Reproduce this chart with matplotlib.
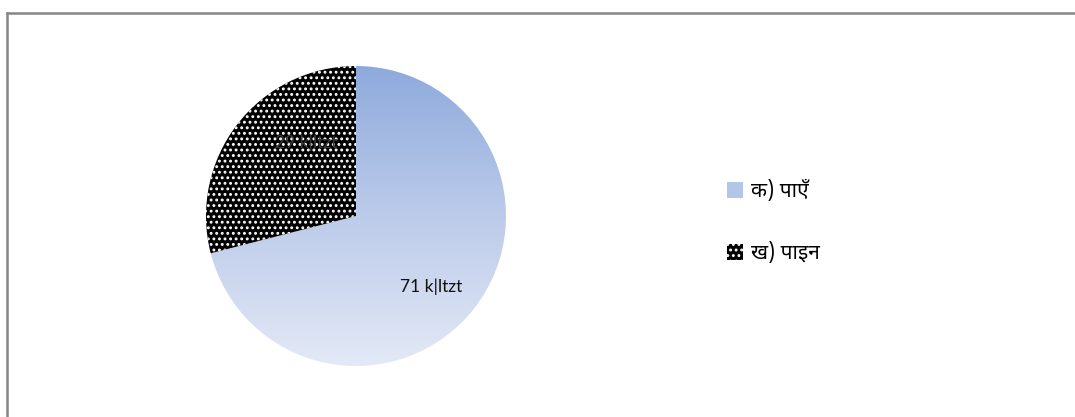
import matplotlib
matplotlib.use("Agg")
import matplotlib.pyplot as plt
import numpy as np
from matplotlib.patches import Patch
from matplotlib.lines import Line2D
from matplotlib.colors import LinearSegmentedColormap

# Data
labels = ["क) पाएँ", "ख) पाइन"]
values = [71, 29]
slice_texts = ["71 k|ltzt", "29 k|ltzt"]

plt.rcParams["font.family"] = ["Noto Sans Devanagari", "Lohit Devanagari", "DejaVu Sans"]
plt.rcParams["hatch.linewidth"] = 1.3

fig = plt.figure(figsize=(10.75, 4.17), dpi=100)
W, H = 1075, 417

# pie axes: centre (356, 216) px, radius 150 px
cx, cy, r = 356, 216, 150
ax = fig.add_axes([(cx - r) / W, (H - cy - r) / H, 2 * r / W, 2 * r / H])

# small slice first so it sits counter-clockwise from 12 o'clock
wedges, _ = ax.pie(values[::-1], startangle=90, counterclock=True, radius=1,
                   colors=["black", "none"], wedgeprops=dict(linewidth=0))
dark, blue = wedges
dark.set_hatch("...")
dark.set_edgecolor("white")
dark.set_linewidth(0)

# vertical gradient for the blue slice (darker at top)
cmap = LinearSegmentedColormap.from_list("bl", ["#8eaadc", "#bccbea", "#e3e9f6"])
grad = np.linspace(0, 1, 256).reshape(-1, 1)
im = ax.imshow(grad, cmap=cmap, extent=(-1, 1, -1, 1), aspect="auto",
               origin="upper", zorder=0.5)
im.set_clip_path(blue)
blue.set_facecolor("none")

ax.set_xlim(-1, 1)
ax.set_ylim(-1, 1)
ax.set_aspect("auto")
ax.axis("off")

ax.text(0.5, -0.47, slice_texts[0], ha="center", va="center", fontsize=12.5,
        family=["Lato", "DejaVu Sans"], color="#111111")
ax.text(-0.33, 0.49, slice_texts[1], ha="center", va="center", fontsize=12.5,
        family=["Lato", "DejaVu Sans"], color="#3a3a3a")

# legend
h1 = Patch(facecolor="#b4c6e7", edgecolor="none")
h2 = Patch(facecolor="black", edgecolor="white", hatch="...", linewidth=0)
leg = fig.legend([h1, h2], labels, loc="center left",
                 bbox_to_anchor=(708 / W, 1 - 222 / H), frameon=False,
                 fontsize=15, handlelength=0.8, handleheight=0.8,
                 handletextpad=0.35, labelspacing=1.9)

# chart border (top and left edges visible)
fig.add_artist(Line2D([7 / W, 1], [1 - 13 / H, 1 - 13 / H], color="#868686", lw=1.8))
fig.add_artist(Line2D([7 / W, 7 / W], [0, 1 - 13 / H], color="#868686", lw=1.8))

fig.savefig("out.png", dpi=100)
